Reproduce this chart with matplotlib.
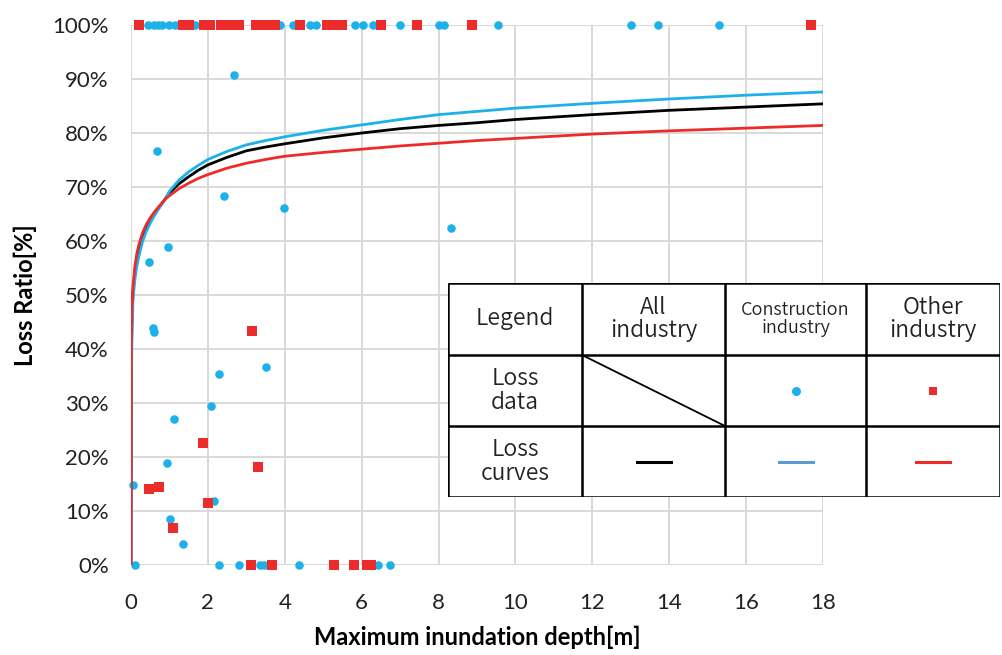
import numpy as np
import matplotlib
matplotlib.use("Agg")
import matplotlib.pyplot as plt
from matplotlib.lines import Line2D

# loss curves (depth in m, loss ratio in %)
curve_depth = [0, 0.01, 0.02, 0.05, 0.1, 0.15, 0.2, 0.3, 0.4, 0.5, 0.6, 0.75, 0.9, 1,
               1.25, 1.5, 1.75, 2, 2.5, 3, 3.5, 4, 5, 6, 7, 8, 9, 10, 12, 14, 16, 18]
curve_all = [0, 38, 44, 50.3, 54, 56.3, 58, 60.6, 62.4, 63.8, 64.9, 66.4, 67.9, 68.9,
             70.6, 71.9, 73.1, 74.1, 75.5, 76.7, 77.4, 78.0, 79.1, 80.0, 80.8, 81.4,
             81.9, 82.5, 83.4, 84.2, 84.8, 85.4]
curve_constr = [0, 33, 40, 49, 52.8, 55.3, 57, 59.9, 61.8, 63.3, 64.6, 66.3, 67.9, 69.2,
                71.3, 72.8, 74.0, 75.1, 76.6, 77.8, 78.6, 79.3, 80.5, 81.5, 82.5, 83.4,
                84.0, 84.6, 85.5, 86.3, 87.0, 87.6]
curve_other = [0, 42, 47, 51.6, 55.3, 57.6, 59.2, 61.5, 63.1, 64.3, 65.3, 66.6, 67.8, 68.4,
               69.7, 70.7, 71.6, 72.3, 73.5, 74.4, 75.1, 75.7, 76.4, 77.0, 77.6, 78.1,
               78.6, 79.0, 79.8, 80.4, 80.9, 81.4]

# loss data, construction industry
constr_depth = [0.45, 0.6, 0.7, 0.8, 1.0, 1.15, 1.67, 3.88, 4.22, 4.66, 4.8, 5.83, 6.04, 6.3, 7.0,
                8.0, 8.15, 9.55, 13.0, 13.7, 15.3,
                2.68, 0.68, 2.42, 3.98, 8.32, 0.96, 0.47, 0.58, 0.6, 2.29, 3.5, 2.08, 1.12,
                0.93, 0.05, 2.16, 1.01, 1.35,
                0.1, 2.3, 2.8, 3.35, 3.45, 4.37, 6.42, 6.74]
constr_loss = [100] * 21 + \
              [90.7, 76.7, 68.3, 66.1, 62.4, 58.9, 56.1, 43.8, 43.2, 35.4, 36.7, 29.5, 27.0,
               18.9, 14.8, 11.9, 8.5, 3.9] + \
              [0] * 8

# loss data, other industry
other_depth = [0.21, 1.35, 1.5, 1.9, 2.05, 2.33, 2.6, 2.8, 3.25, 3.45, 3.6, 3.75, 4.4,
               5.1, 5.3, 5.5, 6.5, 7.44, 8.87, 17.7,
               3.15, 1.87, 3.3, 0.47, 0.73, 2.0, 1.09,
               3.12, 3.67, 5.28, 5.8, 6.15, 6.25]
other_loss = [100] * 20 + [43.3, 22.6, 18.1, 14.0, 14.5, 11.5, 6.9] + [0] * 6

x_ticks = list(range(0, 19, 2))
y_ticks = list(range(0, 101, 10))

BLUE = "#1DB1E9"
RED = "#EE2B2B"
GRID = "#D9D9D9"

W, H = 1003, 655
fig = plt.figure(figsize=(W / 100, H / 100), dpi=100)
ax = fig.add_axes([131 / W, (H - 565) / H, 692 / W, 540 / H])

ax.scatter(constr_depth, constr_loss, s=38, color=BLUE, marker="o", linewidths=0,
           zorder=3, clip_on=False)
ax.scatter(other_depth, other_loss, s=48, color=RED, marker="s", linewidths=0,
           zorder=3, clip_on=False)
ax.plot(curve_depth, curve_all, color="black", lw=2, zorder=4)
ax.plot(curve_depth, curve_constr, color=BLUE, lw=2, zorder=4)
ax.plot(curve_depth, curve_other, color=RED, lw=2, zorder=4)

ax.set_xlim(0, 18)
ax.set_ylim(0, 100)
ax.set_xticks(x_ticks)
ax.set_yticks(y_ticks)
ax.set_yticklabels([f"{v}%" for v in y_ticks])
ax.grid(True, color=GRID, lw=1.4, zorder=0)
ax.set_axisbelow(True)
for s in ax.spines.values():
    s.set_visible(False)
ax.tick_params(length=0, labelsize=16, colors="#222222")
ax.tick_params(axis="y", pad=16)
ax.tick_params(axis="x", pad=20)
for lab in ax.get_xticklabels() + ax.get_yticklabels():
    lab.set_fontfamily("Lato")
ax.set_xlabel("Maximum inundation depth[m]", fontsize=17, fontweight="bold",
              fontfamily="Lato", labelpad=9)
ax.set_ylabel("Loss Ratio[%]", fontsize=17, fontweight="bold",
              fontfamily="Lato", labelpad=11)

# legend table, in pixel coordinates
tx = [448, 582, 725, 866, 1000]
ty = [283, 355, 426, 497]
tab = fig.add_axes([tx[0] / W, (H - ty[-1]) / H, (tx[-1] - tx[0]) / W, (ty[-1] - ty[0]) / H])
tab.set_xlim(tx[0], tx[-1])
tab.set_ylim(ty[-1], ty[0])
tab.axis("off")
tab.add_patch(plt.Rectangle((tx[0], ty[0]), tx[-1] - tx[0], ty[-1] - ty[0],
                            facecolor="white", edgecolor="none", zorder=0))
lk = dict(color="black", lw=1.8, solid_capstyle="butt", zorder=2)
for x in tx:
    tab.add_line(Line2D([x, x], [ty[0], ty[-1]], **lk))
for y in ty:
    tab.add_line(Line2D([tx[0], tx[-1]], [y, y], **lk))
tab.add_line(Line2D([tx[1], tx[2]], [ty[1], ty[2]], color="black", lw=1.3))

jp = ["Noto Sans CJK JP", "DejaVu Sans"]
cx = [(tx[i] + tx[i + 1]) / 2 for i in range(4)]
cy = [(ty[i] + ty[i + 1]) / 2 for i in range(3)]
tk = dict(ha="center", va="center", family=jp, color="#222222", linespacing=1.05,
          fontweight=350)
tab.text(cx[0], cy[0], "Legend", fontsize=16.5, **tk)
tab.text(cx[1], cy[0], "All\nindustry", fontsize=16.5, **tk)
tab.text(cx[2], cy[0], "Construction\nindustry", fontsize=13, **tk)
tab.text(cx[3], cy[0], "Other\nindustry", fontsize=16.5, **tk)
tab.text(cx[0], cy[1], "Loss\ndata", fontsize=16.5, **tk)
tab.text(cx[0], cy[2], "Loss\ncurves", fontsize=16.5, **tk)
tab.plot([cx[2]], [cy[1] + 1], marker="o", ms=6.5, color=BLUE, mew=0)
tab.plot([cx[3]], [cy[1] + 1], marker="s", ms=6, color=RED, mew=0)
for c, col in zip(cx[1:], ["black", "#5B9BD5", RED]):
    tab.add_line(Line2D([c - 17, c + 17], [cy[2] + 1, cy[2] + 1], color=col, lw=2.2))

fig.savefig("out.png", dpi=100)
